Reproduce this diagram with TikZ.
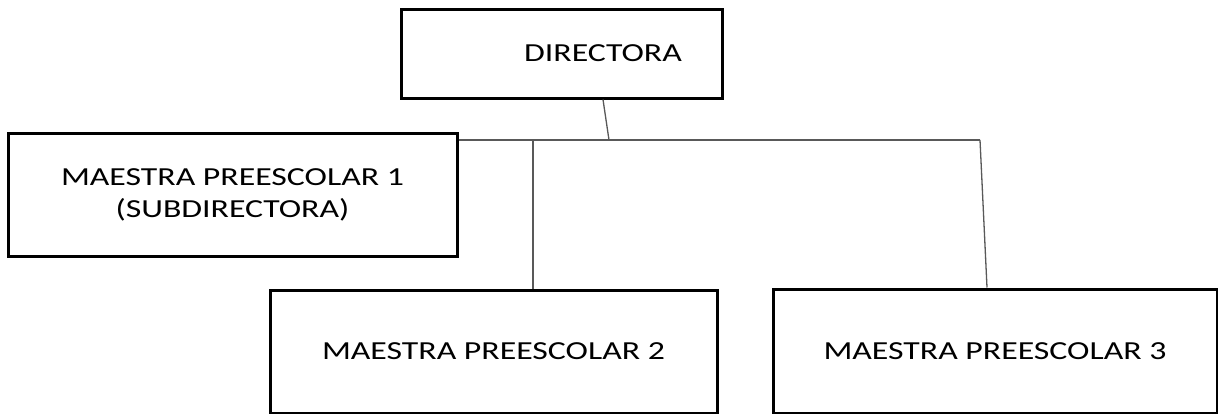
\documentclass[tikz,border=0pt]{standalone}
\usepackage{fontspec}
\newfontfamily\boxfont[FakeStretch=1.3]{Carlito}
\begin{document}
\begin{tikzpicture}[x=1pt,y=-1pt,
  font=\boxfont\fontsize{26}{32}\selectfont,
  orgbox/.style={draw,line width=3pt,inner sep=0pt,align=center},
  link/.style={black!65,line width=1.3pt}]
\useasboundingbox (0,0) rectangle (1218,413);
\clip (0,0) rectangle (1218,413);

% boxes
\node[orgbox,minimum width=321pt,minimum height=89pt] (dir) at (561.5,53.5) {};
\node (dirtext) at (603,53) {DIRECTORA};
\node[orgbox,minimum width=449pt,minimum height=123pt] (m1) at (232.5,194.5) {MAESTRA PREESCOLAR 1\\(SUBDIRECTORA)};
\node[orgbox,minimum width=447pt,minimum height=123pt] (m2) at (493.5,351.5) {MAESTRA PREESCOLAR 2};
\node[orgbox,minimum width=444pt,minimum height=124pt] (m3) at (995,351) {MAESTRA PREESCOLAR 3};

% connectors
\coordinate (jn) at (609,140);
\coordinate (jm) at (533,140);
\coordinate (jr) at (980,140);
\draw[link] (dirtext |- dir.south) -- (jn);
\draw[link] (m1.east |- jn) -- (jr);
\draw[link] (jm) -- (jm |- m2.north);
\draw[link] (jr) -- ([xshift=-8pt]m3.north);

\end{tikzpicture}
\end{document}
